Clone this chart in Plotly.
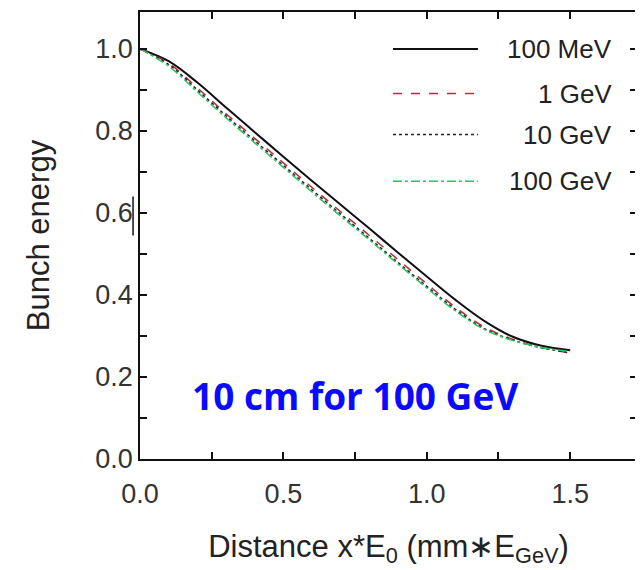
import plotly.graph_objects as go

x = [0.0, 0.1, 0.2, 0.3, 0.4, 0.5, 0.6, 0.7, 0.8, 0.9, 1.0, 1.1, 1.2, 1.3, 1.4, 1.5]
e_100mev = [1.0, 0.970, 0.918, 0.857, 0.797, 0.737, 0.678, 0.620, 0.562, 0.503, 0.445, 0.388, 0.337, 0.298, 0.276, 0.265]
e_1gev = [1.0, 0.965, 0.905, 0.842, 0.782, 0.722, 0.662, 0.603, 0.545, 0.486, 0.427, 0.370, 0.322, 0.292, 0.272, 0.258]
e_10gev = [1.0, 0.962, 0.900, 0.837, 0.776, 0.716, 0.656, 0.597, 0.538, 0.479, 0.421, 0.365, 0.318, 0.290, 0.271, 0.260]
e_100gev = [1.0, 0.958, 0.895, 0.832, 0.771, 0.711, 0.651, 0.592, 0.534, 0.475, 0.417, 0.361, 0.316, 0.289, 0.272, 0.262]

series_names = ["100 MeV", "1 GeV", "10 GeV", "100 GeV"]
series_data = [e_100mev, e_1gev, e_10gev, e_100gev]
series_colors = ["#111111", "#b03040", "#222222", "#30c060"]
series_dash = ["solid", "dash", "dot", "dashdot"]
series_width = [2, 1.5, 1.5, 1.5]

fig = go.Figure()
for name, ys, c, d, w in zip(series_names, series_data, series_colors, series_dash, series_width):
    fig.add_trace(go.Scatter(x=x, y=ys, mode="lines", name=name, line=dict(color=c, dash=d, width=w,
                                                                       shape="spline"), showlegend=False))

# custom legend: sample lines + right-aligned labels
leg_y = [1.0, 0.891, 0.791, 0.677]
shapes = []
annotations = []
for i, (name, c, d, w) in enumerate(zip(series_names, series_colors, series_dash, series_width)):
    yy = leg_y[i]
    shapes.append(dict(type="line", xref="paper", yref="y", x0=0.509, x1=0.68, y0=yy, y1=yy,
                       line=dict(color=c, dash=d, width=w)))
    annotations.append(dict(xref="paper", yref="y", x=0.953, y=yy, text=name, showarrow=False,
                            xanchor="right", yanchor="middle",
                            font=dict(family="Liberation Sans, Arial", size=26, color="#222222")))

annotations.append(dict(xref="x", yref="y", x=0.174, y=0.155, text="<b>10 cm for 100 GeV</b>",
                        showarrow=False, xanchor="left", yanchor="middle",
                        font=dict(family="Open Sans", size=37, color="#0a0aff")))

# small stray mark near the 0.6 label
shapes.append(dict(type="line", xref="paper", yref="y", x0=-0.014, x1=-0.014, y0=0.545, y1=0.64,
                   line=dict(color="#111111", width=1.5)))

axis_font = dict(family="Liberation Sans, Arial", size=27, color="#333333")
fig.update_layout(
    width=635, height=562,
    margin=dict(l=132, r=6, t=2, b=111),
    paper_bgcolor="white", plot_bgcolor="white",
    shapes=shapes, annotations=annotations,
    xaxis=dict(range=[0, 1.733], tickvals=[0, 0.5, 1.0, 1.5], ticktext=["0.0", "0.5", "1.0", "1.5"],
               ticks="inside", ticklen=7, tickwidth=1.5, tickcolor="#111111",
               minor=dict(dtick=0.25, tick0=0, ticks="inside", ticklen=7, tickwidth=1.5, tickcolor="#111111"),
               showline=True, linecolor="#111111", linewidth=1.5, mirror="ticks",
               showgrid=False, zeroline=False, tickfont=axis_font, ticklabelstandoff=10,
               title=dict(text="Distance x*E<sub>0</sub> (mm∗E<sub>GeV</sub>)", standoff=27,
                          font=dict(family="Liberation Sans, Arial", size=31, color="#222222"))),
    yaxis=dict(range=[0, 1.09], tickvals=[0, 0.2, 0.4, 0.6, 0.8, 1.0],
               ticktext=["0.0", "0.2", "0.4", "0.6", "0.8", "1.0"],
               ticks="inside", ticklen=7, tickwidth=1.5, tickcolor="#111111",
               minor=dict(dtick=0.1, tick0=0, ticks="inside", ticklen=7, tickwidth=1.5, tickcolor="#111111"),
               showline=True, linecolor="#111111", linewidth=1.5, mirror="ticks",
               showgrid=False, zeroline=False, tickfont=axis_font,
               title=dict(text="Bunch energy", standoff=36,
                          font=dict(family="Liberation Sans, Arial", size=31, color="#222222"))),
)

fig.write_html("out.html")
